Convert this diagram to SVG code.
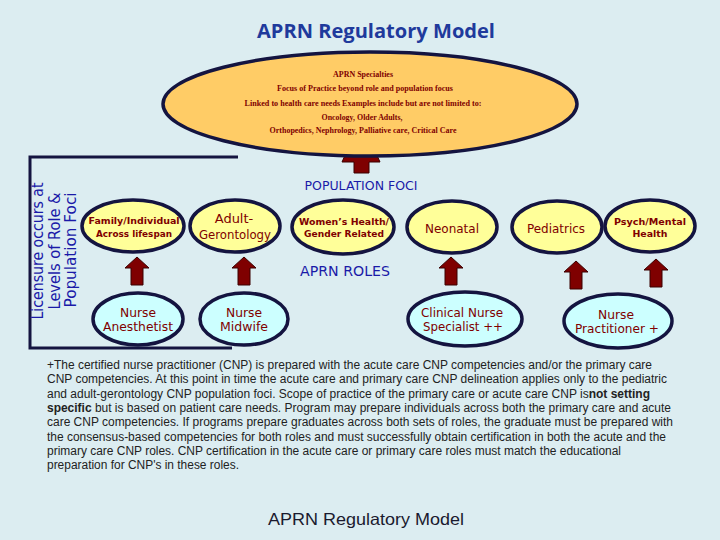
<svg xmlns="http://www.w3.org/2000/svg" width="720" height="540" viewBox="0 0 720 540">
<style>
.bg{fill:#dcedf1}
.pop{fill:#ffff99;stroke:#141440;stroke-width:3.5}
.role{fill:#ccffff;stroke:#141440;stroke-width:3.5}
.spec{fill:#ffcc66;stroke:#141440;stroke-width:3.5}
.frame{stroke:#141440;stroke-width:3;fill:none}
.arr{fill:#7f0000;stroke:#3a0000;stroke-width:1}
.nt{font-family:"DejaVu Sans",Verdana,sans-serif;fill:#800000;text-anchor:middle}
.nb{font-family:"DejaVu Sans",Verdana,sans-serif;fill:#800000;text-anchor:middle;font-weight:bold;font-size:9.5px}
.st{font-family:"Liberation Serif",serif;fill:#800000;font-weight:bold;font-size:8.5px;text-anchor:middle}
.lab{font-family:"DejaVu Sans",Verdana,sans-serif;fill:#1a1aa8}
.para{font-family:"Liberation Sans",Arial,sans-serif;fill:#222;font-size:12px}
</style>
<defs>
<path id="up" d="M0,0 L12,11 L6,11 L6,28 L-6,28 L-6,11 L-12,11 Z"/>
</defs>
<rect class="bg" x="0" y="0" width="720" height="540"/>
<text x="376" y="38" font-family="'Open Sans','Liberation Sans',sans-serif" font-weight="bold" font-size="20" fill="#1f3a9c" text-anchor="middle" textLength="238" lengthAdjust="spacingAndGlyphs">APRN Regulatory Model</text>

<g id="frame">
<path class="frame" d="M238,157 L30,157 L30,348 L232,348"/>
</g>

<g id="licensure-label" class="lab" font-size="15.5">
<text transform="translate(43,251) rotate(-90)" text-anchor="middle" textLength="137" lengthAdjust="spacingAndGlyphs">Licensure occurs at</text>
<text transform="translate(60,251) rotate(-90)" text-anchor="middle" textLength="117" lengthAdjust="spacingAndGlyphs">Levels of Role &amp;</text>
<text transform="translate(76,250) rotate(-90)" text-anchor="middle" textLength="115" lengthAdjust="spacingAndGlyphs">Population Foci</text>
</g>

<g id="connectors">
<polygon class="arr" points="342,162 361,120 380,162 369,162 369,173 354,173 354,162"/>
<use href="#up" class="arr" transform="translate(137,257)"/>
<use href="#up" class="arr" transform="translate(244,257)"/>
<use href="#up" class="arr" transform="translate(451,257)"/>
<use href="#up" class="arr" transform="translate(576,261)"/>
<use href="#up" class="arr" transform="translate(656,259)"/>
</g>

<g id="specialties">
<ellipse class="spec" cx="370" cy="104" rx="207" ry="52"/>
<text class="st" x="363" y="77" textLength="60" lengthAdjust="spacingAndGlyphs">APRN Specialties</text>
<text class="st" x="365" y="91" textLength="176" lengthAdjust="spacingAndGlyphs">Focus of Practice beyond role and population focus</text>
<text class="st" x="363" y="106" textLength="237" lengthAdjust="spacingAndGlyphs">Linked to health care needs Examples include but are not limited to:</text>
<text class="st" x="362" y="120" textLength="81" lengthAdjust="spacingAndGlyphs">Oncology, Older Adults,</text>
<text class="st" x="363" y="133" textLength="187" lengthAdjust="spacingAndGlyphs">Orthopedics, Nephrology, Palliative care, Critical Care</text>
</g>

<text class="lab" x="361" y="190" font-size="12.5" text-anchor="middle" textLength="113" lengthAdjust="spacingAndGlyphs">POPULATION FOCI</text>
<text class="lab" x="345" y="276" font-size="13.5" text-anchor="middle" textLength="90" lengthAdjust="spacingAndGlyphs">APRN ROLES</text>

<g id="family">
<ellipse class="pop" cx="133" cy="226" rx="51" ry="26"/>
<text class="nb" x="134" y="224" textLength="91" lengthAdjust="spacingAndGlyphs">Family/Individual</text>
<text class="nb" x="134" y="237" textLength="76" lengthAdjust="spacingAndGlyphs">Across lifespan</text>
</g>
<g id="adult-gero">
<ellipse class="pop" cx="235" cy="226" rx="45" ry="26"/>
<text class="nt" x="234" y="223" font-size="13">Adult-</text>
<text class="nt" x="235" y="239" font-size="13" textLength="72" lengthAdjust="spacingAndGlyphs">Gerontology</text>
</g>
<g id="womens">
<ellipse class="pop" cx="343" cy="227" rx="51" ry="27"/>
<text class="nb" x="344" y="225" textLength="90" lengthAdjust="spacingAndGlyphs">Women’s Health/</text>
<text class="nb" x="344" y="237" textLength="80" lengthAdjust="spacingAndGlyphs">Gender Related</text>
</g>
<g id="neonatal">
<ellipse class="pop" cx="452" cy="227" rx="45" ry="26"/>
<text class="nt" x="452" y="233" font-size="13" textLength="54" lengthAdjust="spacingAndGlyphs">Neonatal</text>
</g>
<g id="pediatrics">
<ellipse class="pop" cx="557" cy="227" rx="45" ry="26"/>
<text class="nt" x="556" y="233" font-size="13" textLength="58" lengthAdjust="spacingAndGlyphs">Pediatrics</text>
</g>
<g id="psych">
<ellipse class="pop" cx="650" cy="226" rx="45" ry="26"/>
<text class="nb" x="650" y="225" textLength="72" lengthAdjust="spacingAndGlyphs">Psych/Mental</text>
<text class="nb" x="650" y="237" textLength="35" lengthAdjust="spacingAndGlyphs">Health</text>
</g>

<g id="anesthetist">
<ellipse class="role" cx="138" cy="319" rx="45" ry="26"/>
<text class="nt" x="138" y="317" font-size="13" textLength="36" lengthAdjust="spacingAndGlyphs">Nurse</text>
<text class="nt" x="138" y="331" font-size="13" textLength="70" lengthAdjust="spacingAndGlyphs">Anesthetist</text>
</g>
<g id="midwife">
<ellipse class="role" cx="244" cy="319" rx="44" ry="26"/>
<text class="nt" x="244" y="317" font-size="13" textLength="36" lengthAdjust="spacingAndGlyphs">Nurse</text>
<text class="nt" x="244" y="331" font-size="13" textLength="48" lengthAdjust="spacingAndGlyphs">Midwife</text>
</g>
<g id="cns">
<ellipse class="role" cx="465" cy="319" rx="57" ry="27"/>
<text class="nt" x="462" y="317" font-size="13" textLength="82" lengthAdjust="spacingAndGlyphs">Clinical Nurse</text>
<text class="nt" x="463" y="331" font-size="13" textLength="80" lengthAdjust="spacingAndGlyphs">Specialist ++</text>
</g>
<g id="np">
<ellipse class="role" cx="618" cy="321" rx="54" ry="27"/>
<text class="nt" x="616" y="319" font-size="13" textLength="36" lengthAdjust="spacingAndGlyphs">Nurse</text>
<text class="nt" x="617" y="333" font-size="13" textLength="84" lengthAdjust="spacingAndGlyphs">Practitioner +</text>
</g>

<g id="note" class="para">
<text x="47" y="369" textLength="605" lengthAdjust="spacingAndGlyphs">+The certified nurse practitioner (CNP) is prepared with the acute care CNP competencies and/or the primary care</text>
<text x="47" y="383" textLength="620" lengthAdjust="spacingAndGlyphs">CNP competencies. At this point in time the acute care and primary care CNP delineation applies only to the pediatric</text>
<text x="47" y="398" textLength="603" lengthAdjust="spacingAndGlyphs">and adult-gerontology CNP population foci. Scope of practice of the primary care or acute care CNP is<tspan font-weight="bold">not setting</tspan></text>
<text x="47" y="412" textLength="624" lengthAdjust="spacingAndGlyphs"><tspan font-weight="bold">specific</tspan> but is based on patient care needs. Program may prepare individuals across both the primary care and acute</text>
<text x="47" y="426" textLength="626" lengthAdjust="spacingAndGlyphs">care CNP competencies. If programs prepare graduates across both sets of roles, the graduate must be prepared with</text>
<text x="47" y="441" textLength="619" lengthAdjust="spacingAndGlyphs">the consensus-based competencies for both roles and must successfully obtain certification in both the acute and the</text>
<text x="47" y="455" textLength="574" lengthAdjust="spacingAndGlyphs">primary care CNP roles. CNP certification in the acute care or primary care roles must match the educational</text>
<text x="47" y="469" textLength="192" lengthAdjust="spacingAndGlyphs">preparation for CNP's in these roles.</text>
</g>

<text x="366" y="525" font-family="'Liberation Sans',Arial,sans-serif" font-size="16.5" fill="#1a1a2e" text-anchor="middle" textLength="196" lengthAdjust="spacingAndGlyphs">APRN Regulatory Model</text>
</svg>
